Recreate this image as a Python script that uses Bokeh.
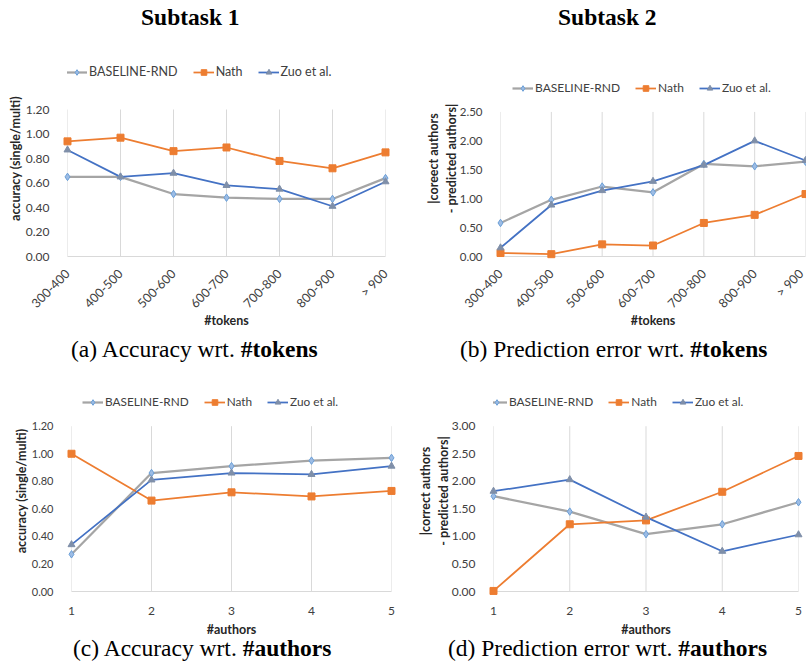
import math
from bokeh.plotting import figure
from bokeh.models import Legend, LegendItem, FixedTicker, NumeralTickFormatter, Range1d, Div
from bokeh.layouts import column, row
from bokeh.embed import file_html
from bokeh.resources import INLINE

# ---------------- data ----------------
token_labels = ["300-400", "400-500", "500-600", "600-700", "700-800", "800-900", "> 900"]
token_pos = [0, 1, 2, 3, 4, 5, 6]
acc_tok_base = [0.65, 0.65, 0.51, 0.48, 0.47, 0.47, 0.64]
acc_tok_nath = [0.94, 0.97, 0.86, 0.89, 0.78, 0.72, 0.85]
acc_tok_zuo = [0.87, 0.65, 0.68, 0.58, 0.55, 0.41, 0.61]
err_tok_base = [0.58, 0.98, 1.21, 1.11, 1.60, 1.56, 1.64]
err_tok_nath = [0.06, 0.04, 0.21, 0.19, 0.58, 0.72, 1.08]
err_tok_zuo = [0.15, 0.89, 1.14, 1.30, 1.58, 2.00, 1.66]

authors = [1, 2, 3, 4, 5]
author_labels = ["1", "2", "3", "4", "5"]
acc_auth_base = [0.27, 0.86, 0.91, 0.95, 0.97]
acc_auth_nath = [1.00, 0.66, 0.72, 0.69, 0.73]
acc_auth_zuo = [0.34, 0.81, 0.86, 0.85, 0.91]
err_auth_base = [1.73, 1.45, 1.04, 1.22, 1.62]
err_auth_nath = [0.01, 1.22, 1.29, 1.81, 2.46]
err_auth_zuo = [1.82, 2.03, 1.35, 0.73, 1.03]

acc_ticks = [0.0, 0.2, 0.4, 0.6, 0.8, 1.0, 1.2]
err_tok_ticks = [0.0, 0.5, 1.0, 1.5, 2.0, 2.5]
err_auth_ticks = [0.0, 0.5, 1.0, 1.5, 2.0, 2.5, 3.0]
series_names = ["BASELINE-RND", "Nath", "Zuo et al."]

# ---------------- style ----------------
SANS = "Lato"
SERIF = "Liberation Serif"
GRAY = "#A5A5A5"
ORANGE = "#ED7D31"
BLUE = "#4472C4"
GRID = "#D9D9D9"
TICK_COL = "#404040"
TITLE_COL = "#262626"
LEG_H = 14


def make_panel(xs, ys_list, xticks, xlabels, yticks, ylabel, xlabel, width, height,
               fig_top, frame_top, data_top, frame_bottom, legend_cy,
               mb_left, mb_right, leg_dx, leg_font, rotate, x_standoff,
               xlab_standoff, ylab_standoff, xfont_px, yfont_px):
    ymax = yticks[-1]
    # the frame extends above the data area so that the legend can sit inside it
    y_end = ymax * (frame_bottom - frame_top) / (frame_bottom - data_top)
    mb_top = frame_top - fig_top
    mb_bottom = fig_top + height - frame_bottom
    p = figure(width=width, height=height, output_backend="svg", toolbar_location=None,
               x_range=Range1d(xticks[0], xticks[-1]), y_range=Range1d(yticks[0], y_end),
               min_border_left=mb_left, min_border_right=mb_right,
               min_border_top=mb_top, min_border_bottom=mb_bottom)
    p.outline_line_color = None
    p.border_fill_color = "white"

    # vertical category grid lines, only over the data area
    p.segment(x0=xticks, y0=[yticks[0]] * len(xticks), x1=xticks, y1=[ymax] * len(xticks),
              line_color=GRID, line_width=1, level="underlay")

    base, nath, zuo = ys_list
    r1l = p.line(xs, base, line_color=GRAY, line_width=2.25)
    r1m = p.scatter(xs, base, marker="diamond", size=7.5, fill_color="#9DBCE4",
                    line_color="#6A9FD8", line_width=1, level="overlay")
    r2l = p.line(xs, nath, line_color=ORANGE, line_width=1.75)
    r2m = p.scatter(xs, nath, marker="square", size=7, fill_color=ORANGE,
                    line_color=ORANGE, level="overlay")
    r3l = p.line(xs, zuo, line_color=BLUE, line_width=1.75)
    r3m = p.scatter(xs, zuo, marker="triangle", size=7, fill_color="#7F8FA9",
                    line_color="#7F8FA9", level="overlay")

    legend = Legend(items=[
        LegendItem(label=series_names[0], renderers=[r1l, r1m]),
        LegendItem(label=series_names[1], renderers=[r2l, r2m]),
        LegendItem(label=series_names[2], renderers=[r3l, r3m]),
    ], orientation="horizontal",
        location=(leg_dx, frame_bottom - legend_cy - LEG_H / 2),
        glyph_width=21, glyph_height=LEG_H, label_height=LEG_H, label_standoff=2,
        spacing=15, padding=0, margin=0, border_line_color=None,
        background_fill_alpha=0, label_text_font=SANS, label_text_font_size=f"{leg_font}px",
        label_text_color=TICK_COL, label_text_baseline="middle")
    p.add_layout(legend, "center")

    p.xaxis.ticker = FixedTicker(ticks=xticks)
    p.xaxis.major_label_overrides = {t: l for t, l in zip(xticks, xlabels)}
    if rotate:
        p.xaxis.major_label_orientation = math.pi / 4
    p.xaxis.axis_line_color = GRID
    p.xaxis.axis_line_width = 1
    p.xaxis.major_tick_line_color = None
    p.xaxis.minor_tick_line_color = None
    p.xaxis.major_label_standoff = x_standoff
    p.xaxis.major_label_text_font = SANS
    p.xaxis.major_label_text_font_size = f"{xfont_px}px"
    p.xaxis.major_label_text_color = TICK_COL
    p.xaxis.axis_label = xlabel
    p.xaxis.axis_label_text_font = SANS
    p.xaxis.axis_label_text_font_style = "bold"
    p.xaxis.axis_label_text_font_size = "12.5px"
    p.xaxis.axis_label_text_color = TITLE_COL
    p.xaxis.axis_label_standoff = xlab_standoff

    p.yaxis.ticker = FixedTicker(ticks=yticks)
    p.yaxis.bounds = (yticks[0], ymax)
    p.yaxis.formatter = NumeralTickFormatter(format="0.00")
    p.yaxis.axis_line_color = None
    p.yaxis.major_tick_line_color = None
    p.yaxis.minor_tick_line_color = None
    p.yaxis.major_label_standoff = 12
    p.yaxis.major_label_text_font = SANS
    p.yaxis.major_label_text_font_size = f"{yfont_px}px"
    p.yaxis.major_label_text_color = TICK_COL
    p.yaxis.axis_label = ylabel
    p.yaxis.axis_label_text_font = SANS
    p.yaxis.axis_label_text_font_style = "bold"
    p.yaxis.axis_label_text_font_size = "12.5px"
    p.yaxis.axis_label_text_color = TITLE_COL
    p.yaxis.axis_label_standoff = ylab_standoff

    p.xgrid.grid_line_color = None
    p.ygrid.grid_line_color = None
    return p


ROW1_TOP, ROW1_H = 30, 304
ROW2_TOP, ROW2_H = 366, 273

pa = make_panel(token_pos, [acc_tok_base, acc_tok_nath, acc_tok_zuo], token_pos, token_labels,
                acc_ticks, "accuracy (single/multi)", "#tokens", 400, ROW1_H,
                ROW1_TOP, 60, 109, 256, 72,
                67, 15, -1, 12.5, True, 9, -6, 0, 12.5, 12)
pb = make_panel(token_pos, [err_tok_base, err_tok_nath, err_tok_zuo], token_pos, token_labels,
                err_tok_ticks, "|coreect authors\n- predicted authors|", "#tokens", 406, ROW1_H,
                ROW1_TOP, 60, 111.7, 257, 89,
                100, 1, 12, 12, True, 9, -6, -2, 12.5, 11.5)
pc = make_panel(authors, [acc_auth_base, acc_auth_nath, acc_auth_zuo], authors, author_labels,
                acc_ticks, "accuracy (single/multi)", "#authors", 400, ROW2_H,
                ROW2_TOP, 390, 425.7, 591, 402,
                71, 9, 11, 11.8, False, 9, 4, 0, 12, 11)
pd = make_panel(authors, [err_auth_base, err_auth_nath, err_auth_zuo], authors, author_labels,
                err_auth_ticks, "|correct authors\n- predicted authors|", "#authors", 406, ROW2_H,
                ROW2_TOP, 390, 425.7, 591, 402,
                93, 8, -7, 11.9, False, 9, 4, -2, 12, 12)


def text_div(html, width, height, left, top, bold=False):
    weight = "bold" if bold else "normal"
    inner = (f'<div style="font-family:\'{SERIF}\';font-size:23.5px;line-height:18px;'
             f'font-weight:{weight};color:#000;white-space:nowrap;'
             f'padding-left:{left}px;padding-top:{top}px;">{html}</div>')
    return Div(text=inner, width=width, height=height, margin=0)


t1 = text_div("Subtask 1", 400, 30, 141, 8, bold=True)
t2 = text_div("Subtask 2", 406, 30, 158, 8, bold=True)
ca = text_div("(a) Accuracy wrt. <b>#tokens</b>", 400, 32, 71, 6)
cb = text_div("(b) Prediction error wrt. <b>#tokens</b>", 406, 32, 60, 6)
cc = text_div("(c) Accuracy wrt. <b>#authors</b>", 400, 30, 73, 0)
cd = text_div("(d) Prediction error wrt. <b>#authors</b>", 406, 30, 48, 0)

layout = column(row(t1, t2), row(pa, pb), row(ca, cb), row(pc, pd), row(cc, cd))

open("out.html", "w").write(file_html(layout, INLINE))
